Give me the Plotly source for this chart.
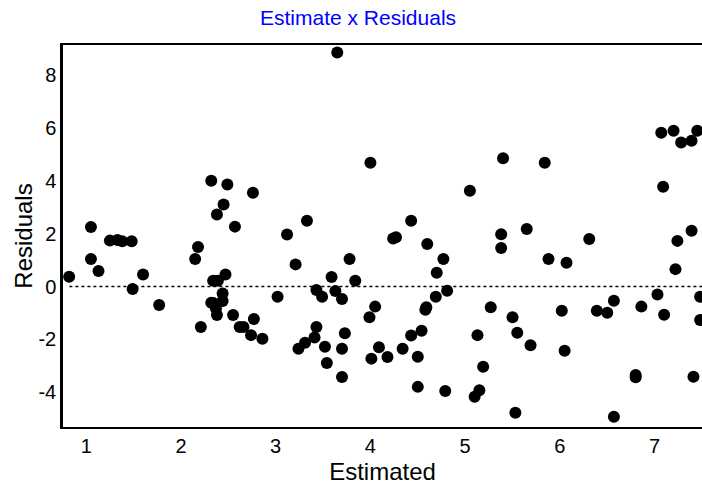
import plotly.graph_objects as go

# Fitted values (x) and their residuals (y)
estimated = [
    0.82, 1.05, 1.05, 1.13, 1.25, 1.33, 1.38, 1.48, 1.49, 1.60, 1.77,
    2.15, 2.18, 2.21, 2.32, 2.49, 2.45, 2.38, 2.57, 2.34, 2.39, 2.47, 2.44,
    2.32, 2.44, 2.34, 2.37, 2.38, 2.55, 2.62, 2.76, 2.77, 2.66, 2.74, 2.86,
    3.02, 3.12, 3.21, 3.24, 3.31, 3.33, 3.41, 3.43, 3.43, 3.49, 3.52, 3.54,
    3.59, 3.63, 3.65, 3.70, 3.70, 3.70, 3.73, 3.78, 3.84,
    3.99, 4.00, 4.01, 4.05, 4.09, 4.18, 4.24, 4.27, 4.34, 4.43, 4.43,
    4.50, 4.50, 4.54, 4.58, 4.59, 4.60, 4.69, 4.70, 4.77, 4.79, 4.81,
    5.05, 5.10, 5.13, 5.15, 5.19, 5.27, 5.38, 5.38, 5.40, 5.50, 5.53,
    5.55, 5.65, 5.69, 5.84, 5.88, 6.02, 6.05, 6.07, 6.31, 6.39, 6.50,
    6.57, 6.57, 6.80, 6.80, 6.86, 7.03, 7.07, 7.09, 7.10, 7.20, 7.22,
    7.24, 7.28, 7.39, 7.39, 7.41, 7.45, 7.48, 7.48,
]
residuals = [
    0.37, 2.26, 1.04, 0.59, 1.74, 1.76, 1.72, 1.72, -0.09, 0.46, -0.70,
    1.04, 1.50, -1.53, 4.01, 3.87, 3.11, 2.73, 2.27, 0.22, 0.22, 0.46, -0.26,
    -0.61, -0.55, -0.62, -0.83, -1.08, -1.08, -1.53, 3.55, -1.23, -1.53, -1.84, -1.98,
    -0.39, 1.97, 0.84, -2.36, -2.13, 2.49, -1.93, -1.53, -0.13, -0.39, -2.28, -2.90,
    0.36, -0.17, 8.87, -0.47, -2.36, -3.43, -1.77, 1.04, 0.22,
    -1.16, 4.69, -2.73, -0.76, -2.30, -2.67, 1.82, 1.87, -2.36, 2.49, -1.85,
    -2.66, -3.80, -1.67, -0.88, -0.78, 1.61, -0.39, 0.52, 1.04, -3.96, -0.16,
    3.63, -4.17, -1.84, -3.93, -3.04, -0.78, 1.98, 1.46, 4.86, -1.16, -4.78,
    -1.75, 2.18, -2.22, 4.69, 1.04, -0.92, -2.43, 0.90, 1.80, -0.92, -0.99,
    -0.54, -4.93, -3.35, -3.44, -0.76, -0.30, 5.83, 3.78, -1.07, 5.90, 0.66,
    1.73, 5.46, 5.52, 2.11, -3.42, 5.90, -0.39, -1.27,
]

x_ticks = [1, 2, 3, 4, 5, 6, 7]
y_ticks = [-4, -2, 0, 2, 4, 6, 8]

fig = go.Figure()
fig.add_trace(go.Scatter(
    x=estimated, y=residuals, mode="markers",
    marker=dict(size=12, color="black", line=dict(width=0)),
    showlegend=False, hoverinfo="x+y",
))

# dotted reference line at zero residual
fig.add_shape(type="line", xref="paper", x0=0.01, x1=1, yref="y", y0=0, y1=0,
              line=dict(color="black", width=1.5, dash="dot"), layer="below")

font = dict(family="Liberation Sans, Arial, sans-serif", size=20, color="black")

fig.update_layout(
    width=702, height=485,
    margin=dict(l=63, r=0, t=45, b=58),
    paper_bgcolor="white", plot_bgcolor="white",
    font=font,
    title=dict(text="Estimate x Residuals", x=0.51, xanchor="center",
               y=0.963, yanchor="middle",
               font=dict(family="Liberation Sans, Arial, sans-serif", size=21, color="#0000ff")),
    xaxis=dict(
        range=[0.755, 7.50], tickvals=x_ticks, ticktext=[str(v) for v in x_ticks],
        showgrid=False, zeroline=False, ticks="", showline=True,
        linecolor="black", linewidth=2, mirror=True,
        title=dict(text="Estimated", standoff=9), tickfont=font,
    ),
    yaxis=dict(
        range=[-5.32, 9.15], tickvals=y_ticks, ticktext=[str(v) for v in y_ticks],
        showgrid=False, zeroline=False, ticks="", showline=True,
        linecolor="black", linewidth=2.5, mirror=False,
        title=dict(text="Residuals", standoff=0), tickfont=font,
    ),
)

fig.write_html("out.html")
